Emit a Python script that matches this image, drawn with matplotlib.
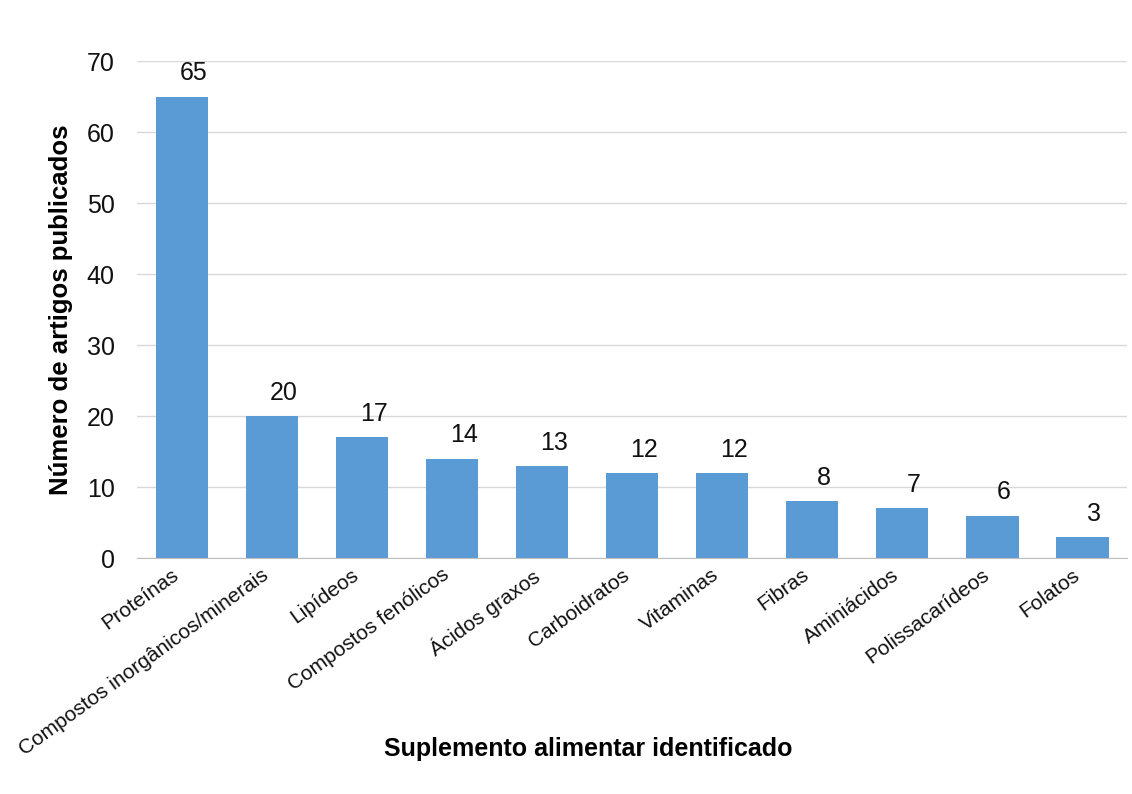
import matplotlib
matplotlib.use("Agg")
import matplotlib.pyplot as plt
from matplotlib.transforms import ScaledTranslation

categories = ["Proteínas", "Compostos inorgânicos/minerais", "Lipídeos",
              "Compostos fenólicos", "Ácidos graxos", "Carboidratos",
              "Vitaminas", "Fibras", "Aminiácidos", "Polissacarídeos", "Folatos"]
values = [65, 20, 17, 14, 13, 12, 12, 8, 7, 6, 3]
yticks = [0, 10, 20, 30, 40, 50, 60, 70]

plt.rcParams['font.family'] = ['Liberation Sans', 'DejaVu Sans']

fig = plt.figure(figsize=(11.32, 7.94), dpi=100)
ax = fig.add_axes([0.121, 0.297, 0.875, 0.626])

x = list(range(len(categories)))
bars = ax.bar(x, values, width=0.58, color="#5b9bd5", zorder=3)
for xi, v in zip(x, values):
    ax.text(xi + 0.13, v + 1.6, str(v), ha="center", va="bottom", fontsize=18, color="#111111")

ax.set_xlim(-0.5, len(categories) - 0.5)
ax.set_ylim(0, 70)
ax.set_yticks(yticks)
ax.tick_params(axis="y", labelsize=18, length=0, pad=16, colors="#111111")
ax.yaxis.grid(True, color="#d9d9d9", linewidth=1, zorder=0)
ax.set_xticks(x)
ax.set_xticklabels(categories, rotation=36, ha="right", rotation_mode="anchor", fontsize=15)
ax.tick_params(axis="x", length=0, pad=8, colors="#111111")
offset = ScaledTranslation(-0.11, 0.04, fig.dpi_scale_trans)
for lbl in ax.get_xticklabels():
    lbl.set_transform(lbl.get_transform() + offset)
for s in ["top", "right", "left"]:
    ax.spines[s].set_visible(False)
ax.spines["bottom"].set_color("#bfbfbf")
ax.spines["bottom"].set_zorder(4)

ax.set_ylabel("Número de artigos publicados", fontsize=18.5, fontweight="bold", labelpad=10)
fig.text(0.52, 0.057, "Suplemento alimentar identificado", ha="center", va="center",
         fontsize=18, fontweight="bold")

fig.savefig("out.png", dpi=100, facecolor="white")
